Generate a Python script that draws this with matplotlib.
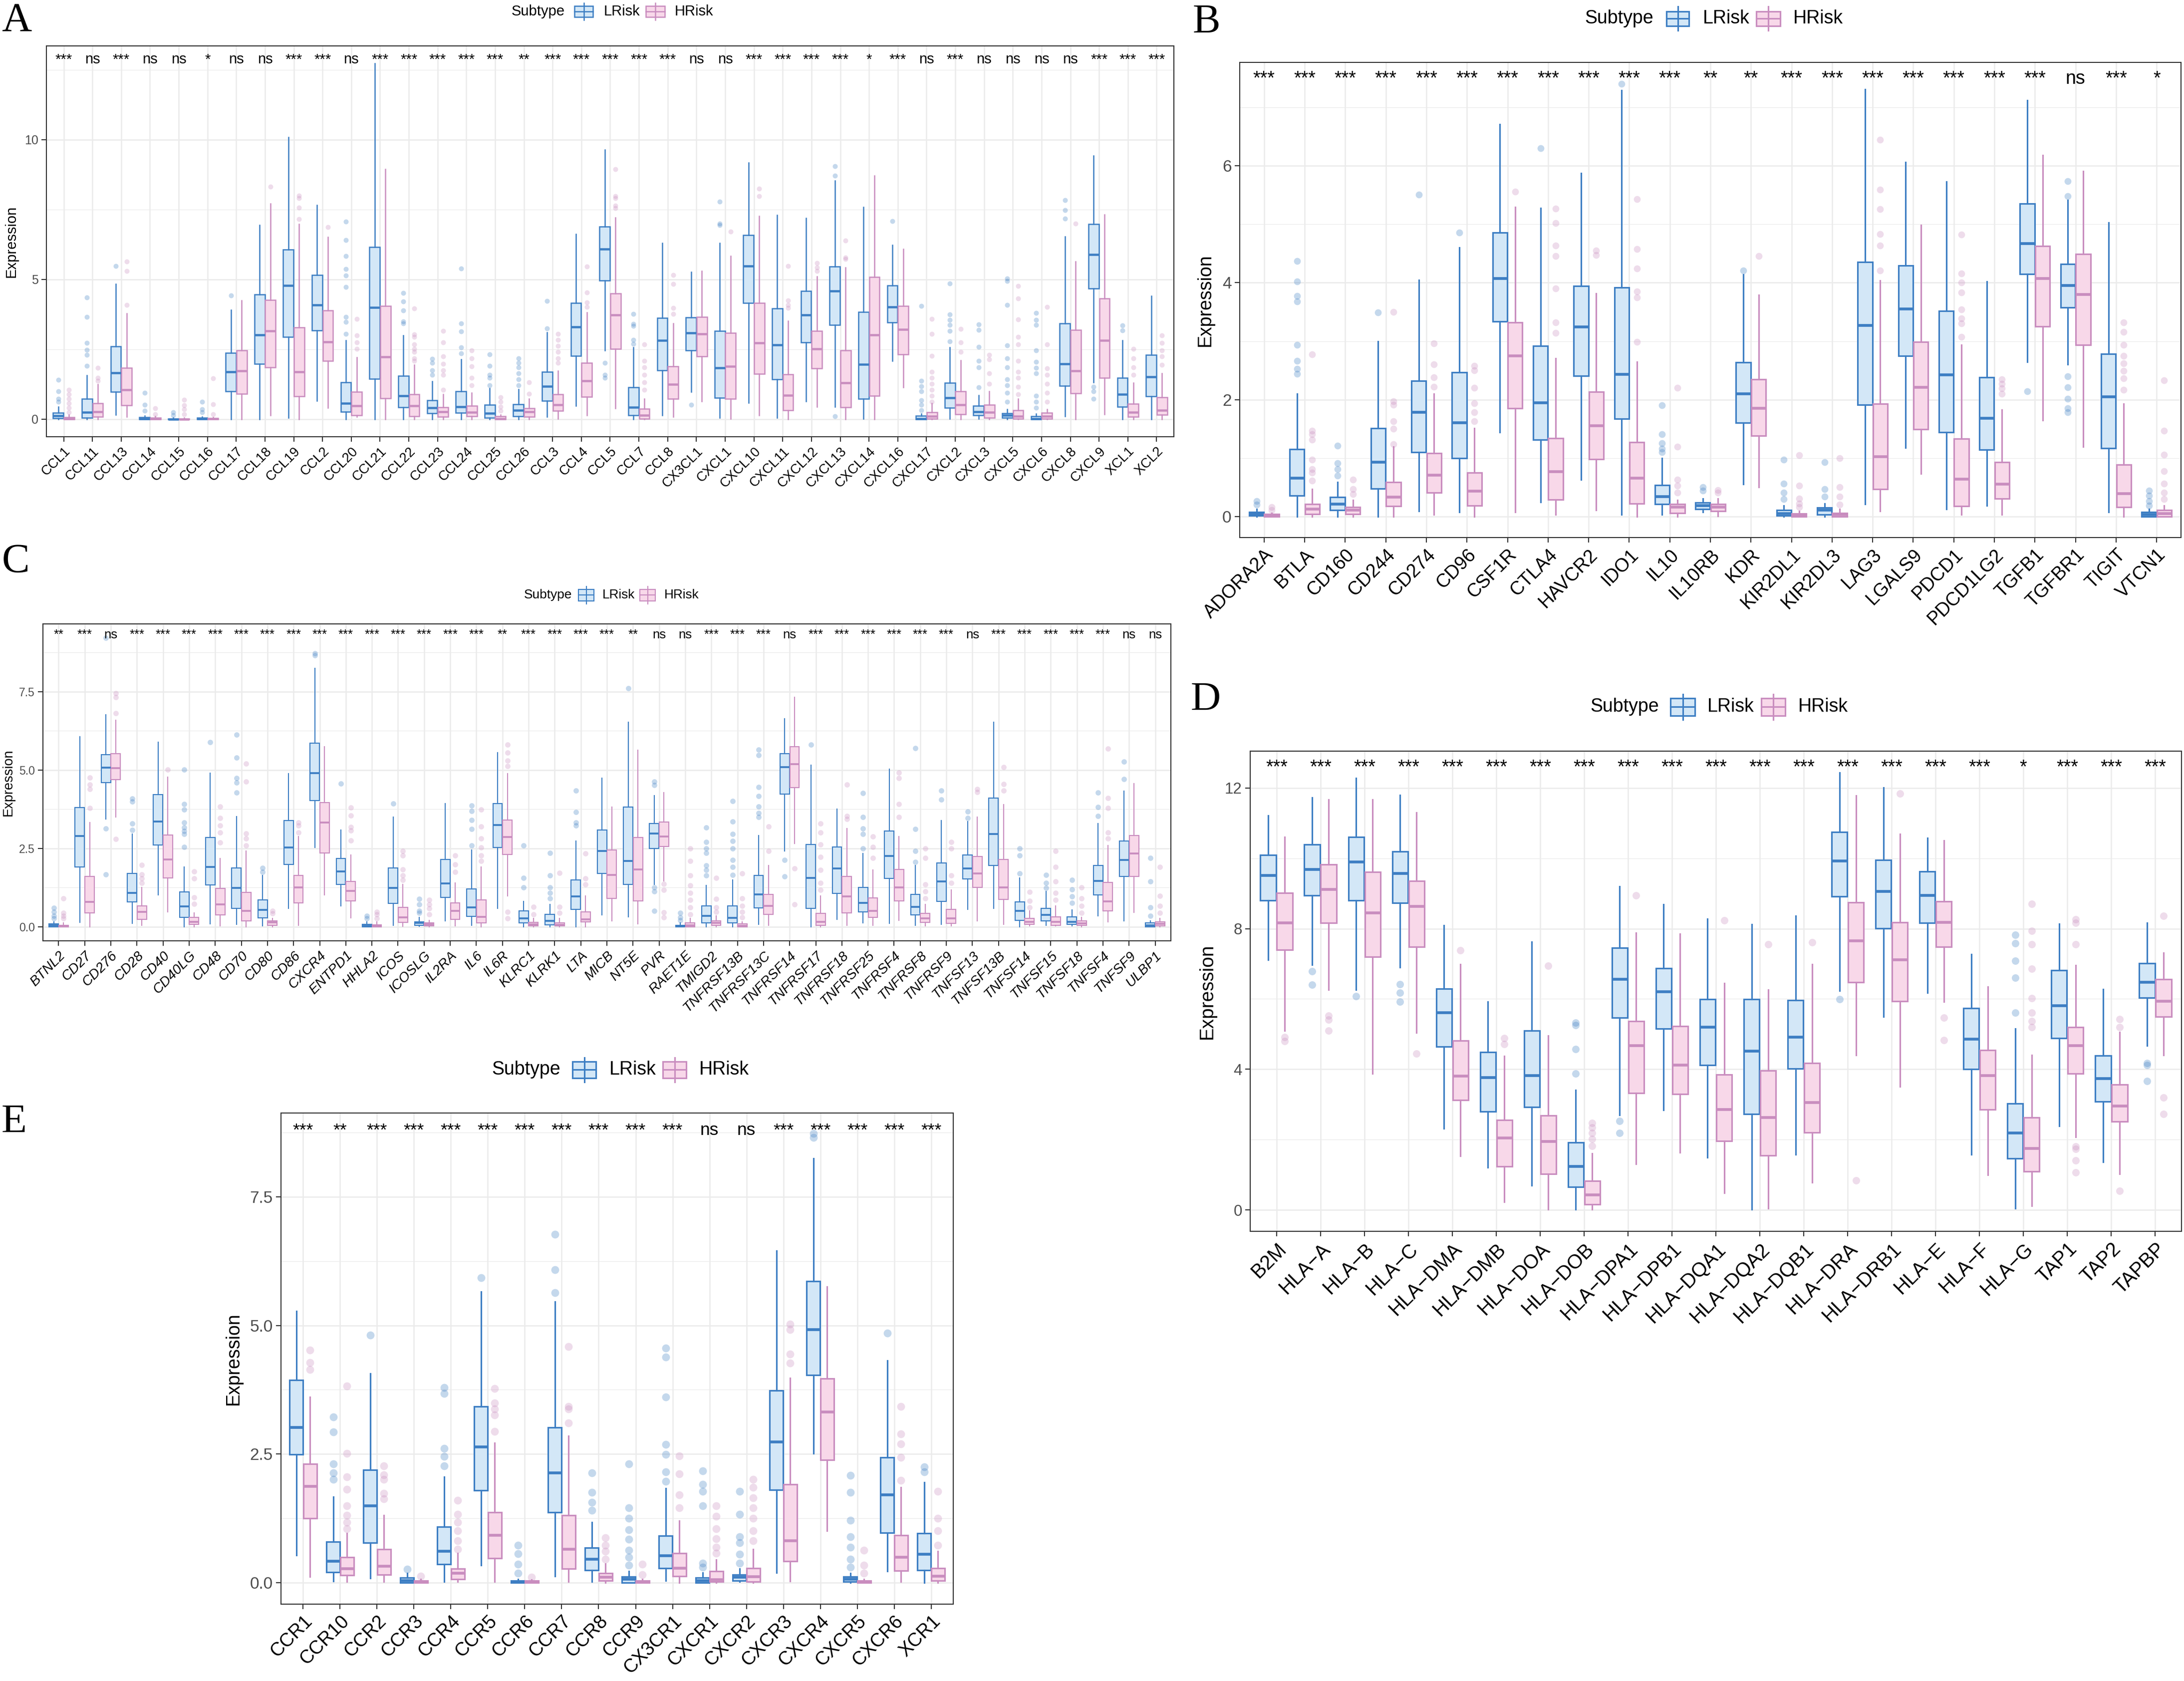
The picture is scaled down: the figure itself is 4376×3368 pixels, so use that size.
import numpy as np
import matplotlib
matplotlib.use('Agg')
import matplotlib.pyplot as plt
from matplotlib.patches import Rectangle
from matplotlib.lines import Line2D
from matplotlib.transforms import Affine2D

# ---------------- data ----------------
# stats per box: (whisker low, q1, median, q3, whisker high)

# Panel A - chemokines
a_genes = ['CCL1', 'CCL11', 'CCL13', 'CCL14', 'CCL15', 'CCL16', 'CCL17', 'CCL18', 'CCL19', 'CCL2',
           'CCL20', 'CCL21', 'CCL22', 'CCL23', 'CCL24', 'CCL25', 'CCL26', 'CCL3', 'CCL4', 'CCL5',
           'CCL7', 'CCL8', 'CX3CL1', 'CXCL1', 'CXCL10', 'CXCL11', 'CXCL12', 'CXCL13', 'CXCL14',
           'CXCL16', 'CXCL17', 'CXCL2', 'CXCL3', 'CXCL5', 'CXCL6', 'CXCL8', 'CXCL9', 'XCL1', 'XCL2']
a_sig = ['***', 'ns', '***', 'ns', 'ns', '*', 'ns', 'ns', '***', '***', 'ns', '***', '***', '***',
         '***', '***', '**', '***', '***', '***', '***', '***', 'ns', 'ns', '***', '***', '***', '***',
         '*', '***', 'ns', '***', 'ns', 'ns', 'ns', 'ns', '***', '***', '***']
a_lrisk = [(0, 0.03, 0.12, 0.23, 0.45), (0, 0.05, 0.24, 0.72, 1.57), (0.16, 0.98, 1.66, 2.6, 4.83),
           (0, 0, 0.02, 0.06, 0.12), (0, 0, 0, 0.02, 0.05), (0, 0, 0.01, 0.04, 0.08),
           (0, 1.0, 1.69, 2.37, 3.91), (0, 1.97, 3.02, 4.45, 6.94), (0.04, 2.94, 4.78, 6.06, 10.08),
           (0.65, 3.18, 4.08, 5.16, 7.66), (0, 0.27, 0.56, 1.32, 2.81), (0, 1.45, 3.99, 6.15, 12.72),
           (0, 0.43, 0.83, 1.54, 2.99), (0, 0.21, 0.4, 0.67, 1.35), (0, 0.22, 0.45, 0.99, 2.13),
           (0, 0.05, 0.21, 0.51, 1.1), (0, 0.11, 0.31, 0.53, 1.07), (0.08, 0.65, 1.18, 1.7, 3.1),
           (0.48, 2.26, 3.29, 4.15, 6.61), (2.45, 4.96, 6.08, 6.89, 9.64), (0, 0.13, 0.42, 1.14, 2.56),
           (0.13, 1.75, 2.81, 3.62, 6.29), (0.97, 2.45, 3.08, 3.64, 5.26), (0.05, 0.76, 1.84, 3.16, 6.29),
           (0.59, 4.15, 5.48, 6.58, 9.18), (0.04, 1.43, 2.65, 3.95, 7.3), (0.64, 2.75, 3.73, 4.59, 7.19),
           (0.45, 3.37, 4.58, 5.45, 8.53), (0.02, 0.72, 1.95, 3.84, 7.59), (2.08, 3.45, 4.01, 4.78, 6.22),
           (0, 0, 0.02, 0.12, 0.2), (0.02, 0.4, 0.76, 1.29, 2.56), (0.02, 0.13, 0.27, 0.48, 0.86),
           (0, 0.04, 0.13, 0.21, 0.35), (0, 0, 0.01, 0.1, 0.2), (0.11, 1.19, 1.97, 3.43, 6.53),
           (1.32, 4.67, 5.88, 6.97, 9.42), (0, 0.45, 0.89, 1.48, 2.81), (0, 0.81, 1.51, 2.29, 4.4)]
a_hrisk = [(0, 0, 0.02, 0.07, 0.15), (0, 0.08, 0.27, 0.56, 1.24), (0.08, 0.49, 1.05, 1.83, 3.78),
           (0, 0, 0.01, 0.04, 0.1), (0, 0, 0, 0.02, 0.05), (0, 0, 0.01, 0.03, 0.06),
           (0, 0.91, 1.72, 2.45, 4.24), (0.13, 1.86, 3.16, 4.27, 7.7), (0, 0.81, 1.7, 3.28, 6.97),
           (0.4, 2.08, 2.76, 3.88, 6.51), (0.08, 0.13, 0.48, 0.98, 2.21), (0, 0.75, 2.22, 4.05, 8.94),
           (0, 0.11, 0.48, 0.89, 1.94), (0, 0.08, 0.26, 0.43, 0.89), (0, 0.1, 0.24, 0.48, 0.94),
           (0, 0, 0.01, 0.1, 0.15), (0, 0.08, 0.27, 0.38, 0.72), (0.02, 0.29, 0.51, 0.89, 1.73),
           (0.13, 0.8, 1.37, 2.02, 3.81), (0.38, 2.51, 3.73, 4.49, 7.21), (0, 0.02, 0.13, 0.37, 0.72),
           (0.08, 0.72, 1.24, 1.88, 3.43), (0.64, 2.24, 3.05, 3.66, 5.3), (0.02, 0.72, 1.89, 3.08, 5.83),
           (0.13, 1.62, 2.72, 4.15, 7.26), (0, 0.32, 0.85, 1.61, 3.51), (0.45, 1.81, 2.51, 3.16, 5.1),
           (0, 0.42, 1.3, 2.45, 5.43), (0, 0.83, 3.02, 5.08, 8.7), (1.14, 2.32, 3.21, 4.05, 6.08),
           (0, 0.02, 0.1, 0.24, 0.56), (0, 0.18, 0.51, 0.99, 2.11), (0, 0.05, 0.24, 0.51, 0.99),
           (0, 0.02, 0.1, 0.32, 0.72), (0, 0.02, 0.1, 0.23, 0.35), (0, 0.92, 1.72, 3.19, 5.64),
           (0.18, 1.48, 2.81, 4.31, 7.32), (0, 0.08, 0.24, 0.54, 1.29), (0, 0.15, 0.32, 0.78, 1.64)]
a_lrisk_out = [[0.62, 0.72, 1.0, 1.4], [1.91, 2.29, 2.48, 2.72, 3.66, 4.35], [5.48], [0.29, 0.51, 0.94],
               [0.13, 0.24], [0.24, 0.35, 0.62], [4.42], [], [], [],
               [3.05, 3.48, 3.66, 4.72, 5.14, 5.37, 5.83, 6.4, 7.07], [], [3.43, 3.5, 3.88, 4.2, 4.51],
               [1.59, 1.75, 2.02, 2.15], [2.35, 2.56, 3.14, 3.43, 5.39], [1.21, 1.48, 1.59, 1.91, 2.32],
               [1.21, 1.43, 1.64, 1.86, 2.02, 2.18], [3.24, 4.22], [], [1.48, 1.59, 2.02],
               [2.69, 2.83, 3.34, 3.41, 3.77], [], [0.51], [6.94, 6.99, 7.78], [], [], [],
               [0.1, 8.7, 9.05], [], [7.09], [0.32, 0.51, 0.67, 0.99, 1.18, 1.37, 4.05],
               [2.78, 3.16, 3.37, 3.54, 3.75, 4.85], [1.14, 1.86, 2.08, 2.59, 3.19, 3.39],
               [0.62, 0.94, 1.21, 1.43, 1.86, 2.18, 2.64, 4.08, 4.94, 5.03],
               [0.4, 0.62, 0.83, 1.64, 1.83, 2.04, 2.45, 3.37, 3.54, 3.79], [7.18, 7.48, 7.84],
               [0.72, 0.99, 1.16], [3.18, 3.36], []]
a_hrisk_out = [[0.24, 0.4, 0.56, 0.72, 0.89, 1.05], [1.37, 1.48, 1.83], [4.08, 5.3, 5.64], [0.18, 0.38],
               [0.18, 0.35, 0.5, 0.7], [0.18, 0.53, 1.46], [], [8.32], [7.16, 7.56, 7.91, 7.99], [6.86],
               [2.51, 2.75, 3.0, 3.59], [], [2.08, 2.18, 2.4, 2.51, 2.67, 2.94, 3.03, 3.95],
               [1.05, 1.59, 1.75, 1.97, 2.24, 2.75, 3.16], [1.21, 1.48, 1.88, 2.18, 2.45],
               [0.29, 0.45, 0.62, 0.78], [0.91, 1.32], [2.02, 2.18, 2.4, 2.62, 2.83, 3.05],
               [4.02, 4.18, 4.53, 5.45], [7.54, 7.64, 7.91, 7.97, 8.94], [1.05, 1.32, 1.59, 1.86, 2.08, 2.67],
               [3.77, 3.97, 4.83, 5.16], [], [6.7], [7.97, 8.24], [3.97, 4.08, 4.24, 5.48],
               [5.29, 5.43, 5.59], [5.72, 5.78, 6.38], [], [],
               [0.62, 0.83, 1.05, 1.26, 1.48, 1.7, 2.26, 3.05, 3.59], [2.4, 2.75, 3.23],
               [1.26, 1.64, 2.13, 2.29], [0.89, 1.16, 1.48, 1.7, 2.08, 2.67, 2.94, 3.57, 4.31, 4.76],
               [0.62, 0.94, 1.26, 1.59, 1.81, 2.67, 4.02], [6.99], [], [1.59, 1.86, 2.18, 2.51],
               [1.94, 2.24, 2.45, 2.72, 3.0]]

# Panel B - immune checkpoints
b_genes = ['ADORA2A', 'BTLA', 'CD160', 'CD244', 'CD274', 'CD96', 'CSF1R', 'CTLA4', 'HAVCR2', 'IDO1',
           'IL10', 'IL10RB', 'KDR', 'KIR2DL1', 'KIR2DL3', 'LAG3', 'LGALS9', 'PDCD1', 'PDCD1LG2',
           'TGFB1', 'TGFBR1', 'TIGIT', 'VTCN1']
b_sig = ['***'] * 11 + ['**', '**'] + ['***'] * 7 + ['ns', '***', '*']
b_lrisk = [(0, 0.02, 0.04, 0.075, 0.125), (0, 0.36, 0.66, 1.15, 2.1), (0, 0.11, 0.21, 0.33, 0.59),
           (0, 0.48, 0.93, 1.51, 3.0), (0.09, 1.1, 1.78, 2.32, 4.05), (0.075, 1.0, 1.6, 2.47, 4.6),
           (1.44, 3.34, 4.07, 4.86, 6.71), (0.25, 1.31, 1.95, 2.92, 5.28), (0.63, 2.41, 3.24, 3.94, 5.87),
           (0.03, 1.67, 2.43, 3.92, 7.29), (0.03, 0.21, 0.34, 0.54, 1.0), (0.075, 0.125, 0.19, 0.24, 0.31),
           (0.55, 1.6, 2.1, 2.64, 4.14), (0, 0.02, 0.05, 0.11, 0.19), (0, 0.03, 0.11, 0.15, 0.22),
           (0.21, 1.91, 3.27, 4.35, 7.31), (1.18, 2.75, 3.55, 4.29, 6.06), (0.125, 1.44, 2.42, 3.52, 5.73),
           (0.19, 1.14, 1.68, 2.38, 4.02), (2.65, 4.15, 4.67, 5.35, 7.12), (2.6, 3.58, 3.95, 4.32, 5.41),
           (0.075, 1.17, 2.05, 2.78, 5.03), (0, 0, 0.03, 0.075, 0.125)]
b_hrisk = [(0, 0, 0.02, 0.04, 0.06), (0, 0.04, 0.125, 0.21, 0.47), (0, 0.04, 0.11, 0.16, 0.28),
           (0, 0.18, 0.33, 0.59, 1.19), (0.03, 0.41, 0.71, 1.08, 2.1), (0, 0.19, 0.43, 0.75, 1.51),
           (0.075, 1.85, 2.75, 3.32, 5.29), (0.03, 0.29, 0.77, 1.34, 2.71), (0.11, 0.98, 1.55, 2.13, 3.82),
           (0, 0.22, 0.66, 1.27, 2.65), (0, 0.06, 0.16, 0.21, 0.28), (0.01, 0.09, 0.16, 0.21, 0.31),
           (0.5, 1.38, 1.85, 2.35, 3.79), (0, 0, 0.02, 0.05, 0.09), (0, 0, 0.03, 0.06, 0.125),
           (0.09, 0.47, 1.02, 1.93, 4.04), (0.73, 1.49, 2.21, 2.99, 4.99), (0.03, 0.18, 0.64, 1.33, 2.94),
           (0.03, 0.31, 0.55, 0.93, 1.83), (1.65, 3.25, 4.07, 4.63, 6.18), (1.19, 2.94, 3.8, 4.49, 5.91),
           (0, 0.16, 0.39, 0.89, 1.93), (0, 0, 0.05, 0.11, 0.19)]
b_lrisk_out = [[0.2, 0.26], [2.44, 2.53, 2.66, 2.94, 3.68, 3.77, 4.02, 4.37], [0.7, 0.81, 0.91, 1.21],
               [3.49], [5.51], [4.86], [], [6.3], [], [7.4], [1.1, 1.16, 1.25, 1.41, 1.9], [0.44, 0.5],
               [4.21], [0.3, 0.41, 0.56, 0.97], [0.34, 0.47, 0.93], [], [], [], [], [2.14],
               [5.48, 5.74, 2.4, 2.21, 2.01, 1.85, 1.78], [], [0.19, 0.26, 0.36, 0.44]]
b_hrisk_out = [[0.11, 0.16], [0.61, 0.75, 0.81, 0.97, 1.31, 1.41, 1.47, 2.77], [0.38, 0.47, 0.63],
               [1.24, 1.5, 1.63, 1.91, 1.97, 3.5], [2.22, 2.38, 2.6, 2.96], [1.63, 1.78, 1.94, 2.2, 2.5, 2.58],
               [5.56], [3.14, 3.32, 3.9, 4.46, 4.64, 5.02, 5.27], [4.47, 4.55],
               [2.99, 3.75, 3.85, 4.24, 4.58, 5.43], [0.41, 0.53, 0.63, 1.19, 2.2], [0.41, 0.45], [4.46],
               [0.16, 0.22, 0.31, 0.53, 1.05], [0.2, 0.34, 0.5, 1.0], [4.21, 4.64, 4.83, 5.26, 5.59, 6.45],
               [], [3.07, 3.3, 3.39, 3.54, 3.83, 4.0, 4.16, 4.82], [2.1, 2.19, 2.27, 2.35], [], [],
               [2.17, 2.36, 2.49, 2.62, 2.75, 2.94, 3.16, 3.32], [0.3, 0.41, 0.56, 0.78, 1.06, 1.47, 2.33]]

# Panel C - immunostimulators
c_genes = ['BTNL2', 'CD27', 'CD276', 'CD28', 'CD40', 'CD40LG', 'CD48', 'CD70', 'CD80', 'CD86', 'CXCR4',
           'ENTPD1', 'HHLA2', 'ICOS', 'ICOSLG', 'IL2RA', 'IL6', 'IL6R', 'KLRC1', 'KLRK1', 'LTA', 'MICB',
           'NT5E', 'PVR', 'RAET1E', 'TMIGD2', 'TNFRSF13B', 'TNFRSF13C', 'TNFRSF14', 'TNFRSF17',
           'TNFRSF18', 'TNFRSF25', 'TNFRSF4', 'TNFRSF8', 'TNFRSF9', 'TNFSF13', 'TNFSF13B', 'TNFSF14',
           'TNFSF15', 'TNFSF18', 'TNFSF4', 'TNFSF9', 'ULBP1']
c_sig = ['**', '***', 'ns', '***', '***', '***', '***', '***', '***', '***', '***', '***', '***', '***',
         '***', '***', '***', '**', '***', '***', '***', '***', '**', 'ns', 'ns', '***', '***', '***',
         'ns', '***', '***', '***', '***', '***', '***', 'ns', '***', '***', '***', '***', '***', 'ns', 'ns']
c_lrisk = [(0, 0, 0.04, 0.09, 0.16), (0.14, 1.9, 2.89, 3.8, 6.06), (3.43, 4.6, 5.08, 5.49, 6.77),
           (0.11, 0.79, 1.08, 1.7, 2.95), (1.01, 2.61, 3.36, 4.22, 5.88), (0, 0.3, 0.65, 1.11, 1.9),
           (0.09, 1.33, 1.9, 2.85, 4.9), (0.07, 0.59, 1.24, 1.88, 3.52), (0.03, 0.28, 0.53, 0.85, 1.63),
           (0.58, 1.98, 2.52, 3.39, 4.88), (2.52, 4.02, 4.9, 5.85, 8.24), (0.67, 1.35, 1.77, 2.18, 3.09),
           (0, 0, 0.02, 0.07, 0.16), (0.05, 0.74, 1.24, 1.88, 3.5), (0.01, 0.05, 0.12, 0.16, 0.3),
           (0.19, 0.94, 1.38, 2.15, 3.93), (0.05, 0.33, 0.62, 1.2, 2.45), (0.58, 2.52, 3.25, 3.93, 5.56),
           (0, 0.12, 0.26, 0.51, 0.8), (0, 0.06, 0.18, 0.39, 0.71), (0, 0.55, 0.96, 1.49, 2.74),
           (0.37, 1.7, 2.41, 3.09, 4.74), (0.32, 1.35, 2.1, 3.82, 6.52), (1.35, 2.5, 2.97, 3.29, 4.19),
           (0, 0, 0.02, 0.05, 0.12), (0, 0.12, 0.35, 0.67, 1.31), (0, 0.12, 0.28, 0.67, 1.49),
           (0.07, 0.6, 1.03, 1.63, 2.91), (2.42, 4.23, 5.09, 5.52, 6.64), (0, 0.58, 1.55, 2.63, 5.15),
           (0.24, 1.06, 1.86, 2.54, 3.76), (0.12, 0.48, 0.76, 1.26, 2.33), (0.11, 1.54, 2.25, 3.06, 5.03),
           (0.05, 0.38, 0.64, 1.03, 1.95), (0.07, 0.8, 1.45, 2.04, 3.38), (0.55, 1.52, 1.86, 2.29, 3.35),
           (0.58, 1.95, 2.95, 4.1, 6.52), (0, 0.21, 0.5, 0.79, 1.56), (0.05, 0.18, 0.37, 0.59, 1.13),
           (0.02, 0.07, 0.16, 0.32, 0.53), (0.35, 1.02, 1.46, 1.95, 3.29), (0.18, 1.61, 2.13, 2.74, 4.33),
           (0, 0, 0.05, 0.12, 0.18)]
c_hrisk = [(0, 0, 0.02, 0.05, 0.12), (0, 0.44, 0.79, 1.6, 3.32), (3.5, 4.7, 5.06, 5.52, 6.59),
           (0.04, 0.24, 0.47, 0.67, 1.26), (0.48, 1.55, 2.15, 2.93, 4.78), (0, 0.07, 0.16, 0.3, 0.44),
           (0.03, 0.37, 0.71, 1.22, 2.18), (0, 0.19, 0.51, 1.1, 2.42), (0, 0.05, 0.14, 0.19, 0.26),
           (0.05, 0.76, 1.26, 1.63, 2.88), (1.02, 2.36, 3.32, 3.96, 5.74), (0.28, 0.82, 1.15, 1.44, 2.29),
           (0, 0, 0.02, 0.06, 0.16), (0.01, 0.14, 0.3, 0.62, 1.35), (0, 0.03, 0.07, 0.12, 0.21),
           (0.03, 0.23, 0.5, 0.76, 1.4), (0, 0.12, 0.32, 0.85, 1.9), (0.99, 2.3, 2.86, 3.41, 4.88),
           (0, 0.03, 0.08, 0.14, 0.26), (0, 0.02, 0.06, 0.12, 0.26), (0, 0.15, 0.23, 0.47, 0.99),
           (0.18, 0.9, 1.65, 2.45, 3.82), (0.09, 0.83, 1.83, 2.84, 5.63), (1.46, 2.56, 2.88, 3.34, 4.28),
           (0, 0, 0.05, 0.13, 0.26), (0, 0.04, 0.12, 0.18, 0.35), (0, 0, 0.03, 0.09, 0.16),
           (0.05, 0.39, 0.67, 1.03, 1.95), (2.65, 4.44, 5.18, 5.74, 7.32), (0, 0.05, 0.15, 0.42, 0.99),
           (0.05, 0.44, 0.97, 1.61, 3.14), (0.05, 0.3, 0.51, 0.92, 1.81), (0.21, 0.83, 1.26, 1.83, 2.88),
           (0.02, 0.14, 0.27, 0.42, 0.71), (0.02, 0.11, 0.27, 0.56, 1.17), (0.18, 1.26, 1.7, 2.24, 3.5),
           (0.07, 0.87, 1.26, 2.15, 3.89), (0.02, 0.07, 0.16, 0.26, 0.51), (0.02, 0.05, 0.16, 0.32, 0.67),
           (0, 0.04, 0.1, 0.18, 0.3), (0.15, 0.51, 0.8, 1.42, 2.59), (0.46, 1.6, 2.34, 2.91, 4.57),
           (0, 0.02, 0.09, 0.16, 0.26)]
c_lrisk_out = [[0.26, 0.35, 0.48, 0.6], [], [3.14, 1.67, 9.22], [3.09, 3.29, 3.99, 4.08], [],
               [2.54, 2.95, 3.05, 3.16, 3.32, 3.73, 3.91, 5.01], [5.88], [4.28, 4.6, 4.74, 5.4, 6.13],
               [1.74, 1.88], [], [8.65, 8.72], [4.57], [0.26, 0.35], [3.93], [0.44, 0.51, 0.71, 0.88], [],
               [2.59, 3.11, 3.41, 3.69, 3.87], [], [1.26, 1.55, 2.59], [0.9, 1.08, 1.26, 1.63, 2.36],
               [3.23, 3.32, 3.66, 4.34], [], [7.6], [1.26, 1.13, 0.51, 4.51, 4.63], [0.21, 0.3, 0.44],
               [1.63, 1.81, 1.95, 2.36, 2.5, 2.71, 3.16], [1.65, 1.9, 2.13, 2.5, 2.73, 2.95, 3.35, 4.01],
               [3.5, 3.62, 3.84, 4.17, 4.46, 5.47, 5.65], [2.13, 1.6], [5.8], [],
               [2.5, 2.95, 3.14, 3.5, 4.26], [], [2.06, 2.41, 3.11, 5.7], [4.05, 4.34], [3.46, 3.67], [],
               [1.7, 2.27, 2.5], [1.23, 1.4, 1.65], [0.76, 0.97, 1.19, 1.49], [3.53, 3.82, 4.28],
               [4.71, 5.26], [0.35, 0.62, 1.45, 2.2]]
c_hrisk_out = [[0.26, 0.35, 0.44, 0.91], [3.78, 4.39, 4.54, 4.76], [6.81, 7.32, 7.44, 2.79],
               [1.4, 1.54, 1.66, 1.97], [5.01], [0.73, 0.94, 1.54, 1.77], [2.68, 3.0, 3.23, 3.46, 3.84],
               [2.59, 2.82, 2.98, 4.63, 5.21], [0.42, 0.51], [3.0, 3.23, 3.32], [],
               [2.75, 3.07, 3.18, 3.55, 3.8], [0.26, 0.39, 0.48], [1.49, 1.63, 1.83, 2.27, 2.41],
               [0.39, 0.58, 0.71, 0.85], [1.74, 1.98, 2.27], [2.09, 2.27, 2.52, 2.82, 3.2, 3.73],
               [0.48, 0.26, 5.13, 5.29, 5.56, 5.81], [0.39, 0.64], [0.44, 0.64, 1.72], [1.35, 1.54, 2.33],
               [], [], [1.37, 1.17, 0.46, 0.3], [0.39, 0.62, 0.85, 1.08, 1.31, 1.63, 2.09, 2.5],
               [0.48, 0.62, 0.88, 1.55], [0.3, 0.48, 0.67, 0.9, 1.7], [2.41, 3.2], [1.86, 0.71],
               [1.17, 1.4, 1.81, 2.22, 2.63, 3.0, 3.29], [3.43, 3.53, 4.54], [2.2, 2.54, 2.88],
               [3.5, 3.91, 4.74, 4.92], [0.9, 1.13, 1.35, 2.2, 2.5], [1.4, 1.63, 2.5, 2.71], [4.3, 4.39],
               [4.34, 4.55, 5.09], [0.62, 0.82, 1.11], [0.85, 1.08, 1.45, 1.9, 2.42], [0.44, 0.67, 0.9, 1.26],
               [2.82, 3.0, 3.78, 4.1, 5.68], [], [0.44, 0.67, 0.99, 1.9]]

# Panel D - MHC
d_genes = ['B2M', 'HLA\u2212A', 'HLA\u2212B', 'HLA\u2212C', 'HLA\u2212DMA', 'HLA\u2212DMB', 'HLA\u2212DOA',
           'HLA\u2212DOB', 'HLA\u2212DPA1', 'HLA\u2212DPB1', 'HLA\u2212DQA1', 'HLA\u2212DQA2', 'HLA\u2212DQB1',
           'HLA\u2212DRA', 'HLA\u2212DRB1', 'HLA\u2212E', 'HLA\u2212F', 'HLA\u2212G', 'TAP1', 'TAP2', 'TAPBP']
d_sig = ['***'] * 17 + ['*', '***', '***', '***']
d_lrisk = [(7.12, 8.8, 9.52, 10.09, 11.22), (6.97, 8.95, 9.69, 10.39, 11.73), (6.26, 8.81, 9.9, 10.61, 12.28),
           (6.9, 8.73, 9.57, 10.2, 11.8), (2.32, 4.64, 5.61, 6.29, 8.1), (1.21, 2.8, 3.76, 4.49, 5.92),
           (0.7, 2.92, 3.82, 5.1, 7.63), (0.02, 0.66, 1.24, 1.92, 3.41), (2.7, 5.47, 6.56, 7.45, 9.2),
           (2.84, 5.15, 6.2, 6.87, 8.69), (1.49, 4.12, 5.2, 5.99, 8.28), (0.02, 2.72, 4.51, 5.99, 8.12),
           (1.58, 4.02, 4.92, 5.96, 8.37), (6.24, 8.92, 9.92, 10.75, 12.44), (5.5, 8.01, 9.06, 9.96, 12.01),
           (6.18, 8.16, 8.95, 9.63, 10.58), (1.58, 4.0, 4.86, 5.74, 7.27), (0.05, 1.47, 2.19, 3.02, 5.16),
           (2.39, 4.89, 5.81, 6.81, 8.13), (1.37, 3.08, 3.74, 4.39, 6.28), (4.67, 6.04, 6.47, 7.02, 8.16)]
d_hrisk = [(5.1, 7.4, 8.16, 9.02, 10.61), (6.26, 8.17, 9.11, 9.83, 11.67), (3.88, 7.2, 8.45, 9.61, 11.67),
           (5.04, 7.49, 8.64, 9.36, 11.3), (1.53, 3.12, 3.8, 4.82, 6.98), (0.23, 1.24, 2.04, 2.56, 4.37),
           (0.02, 1.03, 1.94, 2.68, 4.95), (0.02, 0.16, 0.43, 0.82, 1.61), (1.31, 3.33, 4.67, 5.37, 7.88),
           (1.64, 3.29, 4.12, 5.22, 7.85), (0.48, 1.96, 2.86, 3.85, 6.45), (0.05, 1.55, 2.63, 3.96, 6.26),
           (0.78, 2.2, 3.06, 4.18, 6.98), (4.4, 6.48, 7.65, 8.75, 11.79), (3.51, 5.93, 7.12, 8.18, 10.69),
           (5.92, 7.49, 8.18, 8.77, 10.51), (1.0, 2.86, 3.82, 4.55, 6.35), (0.12, 1.1, 1.75, 2.63, 4.4),
           (2.08, 3.88, 4.67, 5.2, 6.96), (1.03, 2.51, 2.96, 3.57, 5.06), (4.4, 5.5, 5.93, 6.56, 7.31)]
d_lrisk_out = [[], [6.79, 6.41], [6.08], [6.42, 6.18, 5.92], [], [], [], [3.88, 4.57, 5.26, 5.32],
               [2.53, 2.19], [], [], [], [], [5.99], [], [], [], [5.61, 6.61, 7.09, 7.58, 7.83], [], [],
               [4.18, 4.12, 3.66]]
d_hrisk_out = [[4.92, 4.8], [5.53, 5.41, 5.1], [], [4.44], [7.39], [4.88, 4.71], [6.95],
               [1.82, 2.02, 2.19, 2.35, 2.47], [8.94], [], [8.24], [7.56], [7.61], [0.84], [11.84],
               [5.47, 4.83], [], [5.2, 5.37, 5.61, 6.02, 6.86, 7.55, 7.94, 8.7],
               [7.55, 8.16, 8.26, 1.8, 1.74, 1.41, 1.06], [5.43, 5.2, 0.54], [8.37, 3.2, 2.72]]

# Panel E - chemokine receptors
e_genes = ['CCR1', 'CCR10', 'CCR2', 'CCR3', 'CCR4', 'CCR5', 'CCR6', 'CCR7', 'CCR8', 'CCR9', 'CX3CR1',
           'CXCR1', 'CXCR2', 'CXCR3', 'CXCR4', 'CXCR5', 'CXCR6', 'XCR1']
e_sig = ['***', '**'] + ['***'] * 9 + ['ns', 'ns'] + ['***'] * 5
e_lrisk = [(0.53, 2.49, 3.02, 3.94, 5.28), (0.03, 0.2, 0.41, 0.79, 1.67), (0.08, 0.77, 1.49, 2.19, 4.06),
           (0, 0, 0.04, 0.09, 0.18), (0.02, 0.36, 0.61, 1.08, 2.05), (0.34, 1.79, 2.64, 3.42, 5.66),
           (0, 0, 0.02, 0.04, 0.07), (0.12, 1.37, 2.13, 3.02, 5.46), (0.02, 0.24, 0.45, 0.68, 1.17),
           (0, 0, 0.07, 0.11, 0.22), (0.04, 0.28, 0.52, 0.91, 1.83), (0, 0, 0.04, 0.09, 0.19),
           (0.02, 0.04, 0.1, 0.15, 0.27), (0.19, 1.8, 2.73, 3.73, 6.45), (2.51, 4.03, 4.92, 5.86, 8.25),
           (0, 0.02, 0.07, 0.11, 0.18), (0.22, 0.97, 1.71, 2.43, 4.32), (0, 0.24, 0.55, 0.96, 1.95)]
e_hrisk = [(0.11, 1.25, 1.87, 2.31, 3.61), (0.02, 0.14, 0.27, 0.49, 0.96), (0.02, 0.15, 0.32, 0.65, 1.31),
           (0, 0, 0.02, 0.04, 0.07), (0.02, 0.07, 0.18, 0.27, 0.57), (0.02, 0.47, 0.92, 1.37, 2.71),
           (0, 0, 0.02, 0.04, 0.06), (0.02, 0.27, 0.65, 1.31, 2.85), (0, 0.04, 0.1, 0.18, 0.37),
           (0, 0, 0.02, 0.04, 0.07), (0, 0.12, 0.28, 0.57, 1.2), (0, 0.02, 0.06, 0.22, 0.44),
           (0, 0.02, 0.11, 0.28, 0.65), (0.03, 0.41, 0.81, 1.91, 3.98), (1.01, 2.38, 3.32, 3.97, 5.75),
           (0, 0, 0.02, 0.04, 0.07), (0.02, 0.23, 0.49, 0.92, 1.85), (0, 0.04, 0.12, 0.28, 0.61)]
e_lrisk_out = [[], [2.01, 2.13, 2.31, 2.93, 3.22], [4.81], [0.26], [2.27, 2.45, 2.61, 3.68, 3.79], [5.93],
               [0.18, 0.36, 0.56, 0.73], [5.64, 6.08, 6.77], [1.4, 1.56, 1.75, 2.13],
               [0.34, 0.49, 0.63, 0.84, 1.03, 1.25, 1.45, 2.31], [1.97, 2.15, 2.49, 2.69, 3.61, 4.38, 4.56],
               [0.3, 0.38, 1.49, 1.77, 1.91, 2.17], [0.38, 0.55, 0.77, 0.89, 1.33, 1.77], [], [8.65, 8.73],
               [0.3, 0.45, 0.69, 0.89, 1.21, 1.75, 2.08], [4.85], [2.15, 2.25]]
e_hrisk_out = [[4.14, 4.28, 4.52], [1.05, 1.17, 1.31, 1.49, 1.81, 2.05, 2.51, 3.82], [1.63, 1.73, 2.01, 2.09, 2.27],
               [0.12], [0.65, 0.81, 1.01, 1.17, 1.33, 1.6], [2.94, 3.26, 3.37, 3.49, 3.77], [0.1],
               [3.1, 3.37, 3.42, 4.59], [0.45, 0.61, 0.73, 0.87], [0.15, 0.36], [1.45, 1.71, 2.11, 2.46],
               [0.57, 0.69, 0.85, 1.05, 1.29, 1.49], [0.81, 1.01, 1.25, 1.45, 1.65, 1.85, 2.01],
               [4.27, 4.44, 4.92, 5.02], [], [0.18, 0.34, 0.63], [1.99, 2.43, 2.7, 2.89, 3.42],
               [0.73, 1.01, 1.25, 1.77]]

# ---------------- style ----------------
W, H = 4376, 3368
L_EDGE, L_FILL = '#3D7EC3', '#D3E7F7'
H_EDGE, H_FILL = '#C98DBF', '#F8D8E9'
SANS = ['Liberation Sans', 'DejaVu Sans']
plt.rcParams['font.family'] = SANS

fig = plt.figure(figsize=(W / 300, H / 300), dpi=300)
# reference-pixel transform (x right, y down)
pxt = Affine2D().scale(1 / W, -1 / H).translate(0, 1) + fig.transFigure


def panel(box, genes, sig, lstats, hstats, lout, hout, ylim, yticks, ylabs, yminor,
          sig_y, fs, lw, ms, labpad, xstyle='normal'):
    l, t, r, b = box
    ax = fig.add_axes([l / W, 1 - b / H, (r - l) / W, (b - t) / H])
    n = len(genes)
    x = np.arange(n)
    for stats, outs, off, ec, fc in ((lstats, lout, -0.1875, L_EDGE, L_FILL),
                                     (hstats, hout, 0.1875, H_EDGE, H_FILL)):
        bs = [dict(whislo=s[0], q1=s[1], med=s[2], q3=s[3], whishi=s[4], fliers=np.array(o))
              for s, o in zip(stats, outs)]
        ax.bxp(bs, positions=x + off, widths=0.36, patch_artist=True, showcaps=False,
               manage_ticks=False,
               boxprops=dict(facecolor=fc, edgecolor=ec, linewidth=lw),
               whiskerprops=dict(color=ec, linewidth=lw),
               medianprops=dict(color=ec, linewidth=lw * 1.8, solid_capstyle='butt'),
               flierprops=dict(marker='o', markerfacecolor=ec, markeredgecolor='none',
                               alpha=0.3, markersize=ms))
    for i, s in enumerate(sig):
        ax.text(i, sig_y, s, ha='center', va='baseline', fontsize=fs[3])
    ax.set_xlim(-0.6, n - 0.4)
    ax.set_ylim(*ylim)
    ax.set_xticks(x)
    ax.set_xticklabels(genes, rotation=45, ha='right', rotation_mode='anchor',
                       fontsize=fs[0], color='black', fontstyle=xstyle)
    ax.set_yticks(yticks)
    ax.set_yticklabels(ylabs, fontsize=fs[1], color='#4D4D4D')
    ax.set_yticks(yminor, minor=True)
    ax.tick_params(axis='y', which='minor', length=0)
    ax.tick_params(which='major', length=2.4, width=0.5, color='#333333', pad=1.5)
    ax.set_ylabel('Expression', fontsize=fs[2], labelpad=labpad)
    ax.grid(which='major', color='#EBEBEB', linewidth=0.6)
    ax.grid(which='minor', axis='y', color='#EBEBEB', linewidth=0.3)
    ax.set_axisbelow(True)
    for sp in ax.spines.values():
        sp.set_color('#333333')
        sp.set_linewidth(0.5)
    return ax


def legend(x_title_end, y, keys, labx, bh, wh, fs, lw):
    fig.text(x_title_end, y, 'Subtype', transform=pxt, ha='right', va='center', fontsize=fs)
    for (x0, x1), lx, lab, ec, fc in zip(keys, labx, ['LRisk', 'HRisk'],
                                          [L_EDGE, H_EDGE], [L_FILL, H_FILL]):
        xc = (x0 + x1) / 2
        fig.add_artist(Line2D([xc, xc], [y - wh / 2, y + wh / 2], transform=pxt, color=ec, lw=lw))
        fig.add_artist(Rectangle((x0, y - bh / 2), x1 - x0, bh, transform=pxt,
                                 facecolor=fc, edgecolor=ec, lw=lw))
        fig.add_artist(Line2D([x0, x1], [y, y], transform=pxt, color=ec, lw=lw))
        fig.text(lx, y, lab, transform=pxt, ha='left', va='center', fontsize=fs)


def letter(x, y, s):
    fig.text(x, y, s, transform=pxt, ha='left', va='baseline', fontsize=20,
             family=['Liberation Serif', 'DejaVu Serif'])


# A
panel((93, 92, 2352, 875), a_genes, a_sig, a_lrisk, a_hrisk, a_lrisk_out, a_hrisk_out,
      (-0.63, 13.35), [0, 5, 10], ['0', '5', '10'], [2.5, 7.5, 12.5], 12.72,
      (6.5, 6, 7, 7, 7), 0.6, 2.4, 3)
legend(1132, 23, [(1151, 1188), (1294, 1332)], [1210, 1352], 22, 34, 7, 0.6)
letter(3, 62, 'A')

# B
panel((2484, 125, 4370, 1077), b_genes, b_sig, b_lrisk, b_hrisk, b_lrisk_out, b_hrisk_out,
      (-0.36, 7.77), [0, 2, 4, 6], ['0', '2', '4', '6'], [1, 3, 5, 7], 7.4,
      (9, 8, 9, 9, 9), 0.75, 3.3, 4)
legend(3313, 37, [(3339, 3384), (3519, 3567)], [3412, 3593], 29, 48, 9, 0.75)
letter(2390, 65, 'B')

# C
panel((86, 1250, 2346, 1885), c_genes, c_sig, c_lrisk, c_hrisk, c_lrisk_out, c_hrisk_out,
      (-0.45, 9.66), [0, 2.5, 5, 7.5], ['0.0', '2.5', '5.0', '7.5'], [1.25, 3.75, 6.25, 8.75], 9.2,
      (6.7, 5.5, 6.5, 6.2, 6.3), 0.5, 2.6, 2, xstyle='italic')
legend(1146, 1192, [(1159, 1190), (1282, 1313)], [1207, 1331], 23, 35, 6.3, 0.5)
letter(4, 1146, 'C')

# D
panel((2505, 1505, 4371, 2467), d_genes, d_sig, d_lrisk, d_hrisk, d_lrisk_out, d_hrisk_out,
      (-0.61, 13.05), [0, 4, 8, 12], ['0', '4', '8', '12'], [2, 6, 10], 12.44,
      (9.5, 7.5, 9.3, 9, 9), 0.75, 3.6, 4)
legend(3324, 1416, [(3347, 3396), (3529, 3577)], [3421, 3603], 35, 51, 9, 0.75)
letter(2386, 1423, 'D')

# E
panel((563, 2230, 1910, 3214), e_genes, e_sig, e_lrisk, e_hrisk, e_lrisk_out, e_hrisk_out,
      (-0.42, 9.13), [0, 2.5, 5, 7.5], ['0.0', '2.5', '5.0', '7.5'], [1.25, 3.75, 6.25, 8.75], 8.7,
      (9, 8, 9, 8.5, 9), 0.75, 3.8, 3.4)
legend(1123, 2143, [(1147, 1194), (1328, 1375)], [1221, 1401], 33, 49, 9, 0.75)
letter(3, 2269, 'E')

fig.savefig('out.png', dpi=300)
